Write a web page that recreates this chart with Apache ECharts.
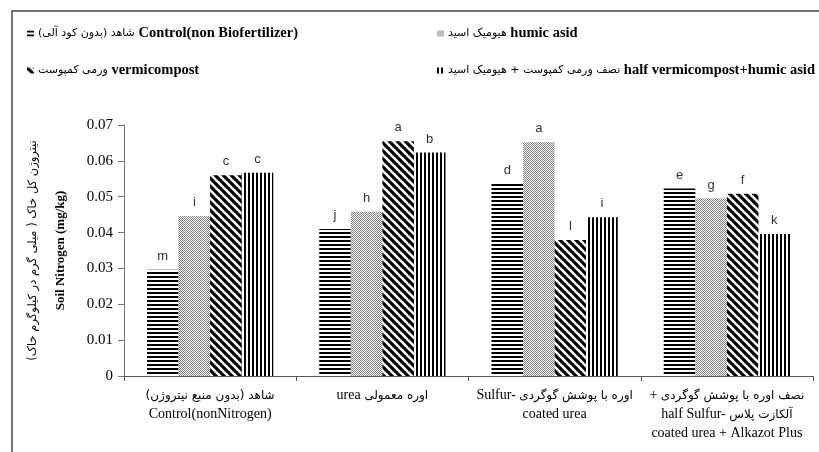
<!DOCTYPE html>
<html><head><meta charset="utf-8">
<script src="https://cdn.jsdelivr.net/npm/echarts@6/dist/echarts.min.js"></script>
<style>html,body{margin:0;padding:0;background:#fff}#c{width:819px;height:452px}</style>
</head><body><div id="c"></div>
<script>
// ---- data ----
const categories = [
  "شاهد (بدون منبع نیتروژن)\nControl(nonNitrogen)",
  "urea اوره معمولی",
  "Sulfur- اوره با پوشش گوگردی\ncoated urea",
  "+ نصف اوره با پوشش گوگردی\nhalf Sulfur- آلکازت پلاس\ncoated urea + Alkazot Plus"
];
const seriesNames = [
  "شاهد (بدون کود آلی) Control(non Biofertilizer)",
  "هیومیک اسید humic asid",
  "ورمی کمپوست vermicompost",
  "نصف ورمی کمپوست + هیومیک اسید half vermicompost+humic asid"
];
const controlValues = [0.0296, 0.0410, 0.0537, 0.0523];
const humicValues   = [0.0446, 0.0458, 0.0652, 0.0495];
const vermiValues   = [0.0560, 0.0655, 0.0379, 0.0508];
const halfValues    = [0.0567, 0.0623, 0.0443, 0.0396];
const controlLetters = ['m', 'j', 'd', 'e'];
const humicLetters   = ['i', 'h', 'a', 'g'];
const vermiLetters   = ['c', 'a', 'l', 'f'];
const halfLetters    = ['c', 'b', 'i', 'k'];
const yAxisTitle = "نیتروژن کل خاک ( میلی گرم در کیلوگرم خاک)\nSoil Nitrogen (mg/kg)";
const yMin = 0, yMax = 0.07, yStep = 0.01;

// ---- helpers ----
const faRe = /[\u0600-\u06FF](?:[\u0600-\u06FF\s()+]*[\u0600-\u06FF)])?/g;
function richify(text, enKey, faKey) {
  enKey = enKey || 'en'; faKey = faKey || 'fa';
  return text.split('\n').map(line => {
    let out = '', last = 0;
    for (const m of line.matchAll(faRe)) {
      if (m.index > last) out += '{' + enKey + '|' + line.slice(last, m.index) + '}';
      out += '{' + faKey + '|' + m[0] + '\u200F}';
      last = m.index + m[0].length;
    }
    if (last < line.length) out += '{' + enKey + '|' + line.slice(last) + '}';
    return out;
  }).join('\n');
}
function makePattern(w, h, draw) {
  const c = document.createElement('canvas');
  c.width = w; c.height = h;
  const g = c.getContext('2d');
  g.fillStyle = '#fff'; g.fillRect(0, 0, w, h);
  draw(g, w, h);
  return { image: c, repeat: 'repeat' };
}
const hStripes = makePattern(4, 4, g => { g.fillStyle = '#000'; g.fillRect(0, 0, 4, 2); });
const dots = makePattern(2, 2, g => { g.fillStyle = '#7a7a7a'; g.fillRect(0, 0, 1, 1); g.fillRect(1, 1, 1, 1); });
const diag = makePattern(8, 8, g => {
  g.strokeStyle = '#000'; g.lineWidth = 3.2;
  for (const c of [-8, 0, 8]) { g.beginPath(); g.moveTo(-2, c - 2); g.lineTo(10, c + 10); g.stroke(); }
});
const vStripes = makePattern(4, 4, g => { g.fillStyle = '#000'; g.fillRect(0, 0, 2, 4); });

const serif = "'Liberation Serif', 'Times New Roman', serif";
const faFont = "'DejaVu Sans', sans-serif";

const defs = [
  { name: seriesNames[0], data: controlValues, letters: controlLetters, color: hStripes },
  { name: seriesNames[1], data: humicValues, letters: humicLetters, color: dots },
  { name: seriesNames[2], data: vermiValues, letters: vermiLetters, color: diag },
  { name: seriesNames[3], data: halfValues, letters: halfLetters, color: vStripes }
];

const legendRich = {
  en: { fontFamily: serif, fontSize: 14.5, fontWeight: 'bold', color: '#000', lineHeight: 16 },
  fa: { fontFamily: faFont, fontSize: 11, color: '#000', lineHeight: 16 }
};
function legendCfg(left, names) {
  return {
    orient: 'vertical', left: left, top: 21, itemGap: 22,
    itemWidth: 7, itemHeight: 6, icon: 'rect',
    data: names, selectedMode: false,
    formatter: n => richify(n),
    textStyle: { rich: legendRich, padding: [0, 0, 0, -1] }
  };
}

const chart = echarts.init(document.getElementById('c'), null, { renderer: 'canvas' });
chart.setOption({
  animation: false,
  backgroundColor: '#fff',
  graphic: [{
    type: 'rect', shape: { x: 12, y: 11, width: 840, height: 470 },
    style: { fill: 'none', stroke: '#4a4a4a', lineWidth: 1.5 }, silent: true
  }],
  legend: [legendCfg(22, [seriesNames[0], seriesNames[2]]), legendCfg(432, [seriesNames[1], seriesNames[3]])],
  grid: { left: 124, right: 6, top: 125, bottom: 76, containLabel: false },
  xAxis: {
    type: 'category', data: categories,
    axisLine: { lineStyle: { color: '#555', width: 1 } },
    axisTick: { show: true, length: 5, lineStyle: { color: '#555' } },
    axisLabel: {
      interval: 0, margin: 10,
      formatter: v => richify(v),
      rich: {
        en: { fontFamily: serif, fontSize: 14, color: '#000', lineHeight: 19 },
        fa: { fontFamily: faFont, fontSize: 12, color: '#000', lineHeight: 19 }
      }
    }
  },
  yAxis: {
    type: 'value', min: yMin, max: yMax, interval: yStep,
    splitLine: { show: false },
    axisLine: { show: true, lineStyle: { color: '#777', width: 1 } },
    axisTick: { show: true, length: 6, lineStyle: { color: '#777' } },
    axisLabel: {
      margin: 11, color: '#000', fontFamily: serif, fontSize: 15,
      formatter: v => (v === 0 ? '0' : v.toFixed(2))
    },
    name: richify(yAxisTitle),
    nameLocation: 'middle', nameGap: 50,
    nameTextStyle: {
      rich: {
        en: { fontFamily: serif, fontSize: 13, fontWeight: 'bold', color: '#000', lineHeight: 27 },
        fa: { fontFamily: faFont, fontSize: 11.5, color: '#000', lineHeight: 27 }
      }
    }
  },
  series: defs.map(d => ({
    type: 'bar', name: d.name, data: d.data,
    barGap: 0, barCategoryGap: '26.7%',
    itemStyle: { color: d.color },
    label: {
      show: true, position: 'top', distance: 7,
      fontFamily: "'Liberation Sans', Arial, sans-serif", fontSize: 13, color: '#333',
      formatter: p => d.letters[p.dataIndex]
    }
  }))
});
</script></body></html>
